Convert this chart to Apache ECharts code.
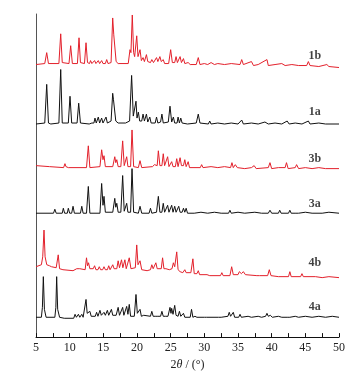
<!DOCTYPE html>
<html>
<head>
<meta charset="utf-8">
<script src="https://cdn.jsdelivr.net/npm/echarts@6/dist/echarts.min.js"></script>
<style>
  html, body { margin: 0; padding: 0; background: #fff; }
  #chart { width: 359px; height: 376px; }
</style>
</head>
<body>
<div id="chart"></div>
<script>
// 2theta range + tick labels
var xTicks = [5, 10, 15, 20, 25, 30, 35, 40, 45, 50];

// pattern names, top to bottom
var names = ['1b', '1a', '3b', '3a', '4b', '4a'];

// traced profiles, [2theta, intensity above own baseline]
var p1b = [[5,0],[6.3,1],[6.59,12],[6.85,1],[8.4,1],[8.67,31],[8.9,2],[9.9,1],[10.15,19],[10.4,1],[11.15,1],[11.39,27],[11.6,2],[12.2,1],[12.43,22],[12.65,2],[12.95,1],[13.1,4],[13.3,1],[13.55,1],[13.7,4],[13.9,1],[14.1,1],[14.25,4],[14.45,1],[14.6,1],[14.75,4],[14.95,1],[15.3,1],[15.5,5],[15.7,1],[16.15,2],[16.39,47],[16.55,30],[16.65,32],[16.9,3],[17.2,1],[18.7,1],[18.96,15],[19.1,12],[19.3,50],[19.5,12],[19.65,8],[19.96,29],[20.15,8],[20.3,6],[20.45,15],[20.65,4],[20.9,7],[21.1,3],[21.4,10],[21.6,3],[22.0,2],[22.2,5],[22.45,2],[22.7,2],[22.9,7],[23.1,3],[23.4,8],[23.6,3],[23.9,5],[24.1,1],[24.7,1],[25.0,15],[25.25,2],[25.6,2],[25.8,8],[26.0,2],[26.2,2],[26.4,8],[26.6,2],[26.9,6],[27.1,1],[27.6,2],[27.9,0],[28.8,0],[29.1,7],[29.35,0],[30,1],[30.5,0],[31,2],[31.5,0],[32,1],[33,0],[34,1],[35.3,0],[35.55,5],[35.8,0],[37,3],[37.3,-1],[38,0],[39.3,5],[39.5,-1],[40.5,0],[41.5,1],[42,-1],[43,0],[44,-1],[45.2,-1],[45.45,3],[45.7,-1],[47,-2],[48.2,0],[48.5,-2],[50,-3]];

var p1a = [[5,0],[6.3,1],[6.59,40],[6.85,1],[7.2,0],[8.4,1],[8.67,55],[8.9,1],[9.8,1],[10.05,28],[10.3,1],[11.1,1],[11.34,21],[11.6,1],[12.9,0],[13.3,1],[13.6,1],[13.76,6],[13.95,1],[14.1,1],[14.25,7],[14.45,1],[14.6,1],[14.75,6],[14.95,1],[15.2,1],[15.4,7],[15.6,1],[16.15,3],[16.39,31],[16.5,25],[16.6,27],[16.85,3],[17.2,1],[18.3,1],[18.9,3],[19.2,49],[19.45,8],[19.6,6],[19.85,23],[20.0,6],[20.2,12],[20.4,3],[20.7,3],[20.9,10],[21.1,3],[21.25,3],[21.4,10],[21.6,2],[21.75,2],[21.9,7],[22.1,1],[22.7,1],[22.9,7],[23.1,1],[23.5,2],[23.7,10],[23.9,1],[24.65,2],[24.9,18],[25.15,2],[25.25,2],[25.4,7],[25.6,1],[25.95,1],[26.1,7],[26.3,1],[26.4,1],[26.5,6],[26.7,1],[27.5,0],[28.8,1],[29.1,10],[29.35,1],[30.6,0],[30.8,3],[31,0],[32,1],[33,0],[34,1],[35,0],[35.55,4],[35.8,0],[37,1],[38,0],[39,2],[39.5,0],[40.5,1],[41.5,0],[42.3,3],[42.6,0],[43.5,1],[44.5,0],[45.45,3],[45.7,0],[47,1],[48,0],[50,0]];

var p3b = [[5,2],[7,1],[9.1,0],[9.3,4],[9.45,1],[9.6,2],[9.8,0],[12.5,0],[12.77,22],[13.0,0],[14.5,1],[14.75,18],[14.95,8],[15.1,12],[15.3,1],[16.4,1],[16.7,11],[16.85,5],[17.0,8],[17.2,1],[17.6,1],[17.87,27],[18.1,2],[18.3,1],[18.47,11],[18.65,1],[19.05,1],[19.26,38],[19.5,1],[20.2,0],[20.45,7],[20.7,0],[22.3,1],[22.6,3],[22.8,2],[23.0,2],[23.17,17],[23.4,2],[23.7,2],[23.9,14],[24.1,2],[24.35,1],[24.55,11],[24.75,1],[24.95,1],[25.15,6],[25.35,1],[25.7,1],[25.9,9],[26.1,1],[26.4,10],[26.6,2],[26.9,2],[27.1,8],[27.3,1],[27.6,6],[27.8,0],[29.4,0],[29.6,3],[29.8,0],[31,1],[32,0],[33,1],[33.9,0],[34.1,5],[34.3,0],[34.6,3],[34.9,0],[36,-1],[37,0],[37.4,2],[37.7,-1],[39.5,0],[39.75,5],[40,-1],[41,0],[42,0],[42.2,5],[42.45,-1],[43.5,0],[43.7,3],[44,-1],[45,0],[46,-1],[47,0],[48,-1],[50,-1]];

var p3a = [[5,0],[7.6,0],[7.8,4],[8.0,0],[8.9,0],[9.06,5],[9.25,0],[9.65,0],[9.8,5],[10.0,0],[10.3,0],[10.5,7],[10.7,0],[11.6,0],[11.8,7],[12.0,0],[12.5,0],[12.77,27],[13.0,0],[14.5,0],[14.75,30],[14.95,8],[15.1,17],[15.3,1],[16.4,1],[16.7,15],[16.85,6],[17.0,10],[17.2,1],[17.6,1],[17.87,38],[18.1,2],[18.3,1],[18.47,10],[18.65,1],[19.05,1],[19.26,45],[19.5,1],[20.2,0],[20.45,7],[20.7,0],[21.8,0],[22.0,5],[22.2,0],[22.9,1],[23.17,17],[23.4,1],[23.7,1],[23.9,10],[24.1,1],[24.35,1],[24.55,8],[24.75,1],[24.95,1],[25.15,8],[25.35,1],[25.45,1],[25.6,7],[25.8,1],[26.0,1],[26.2,7],[26.4,1],[26.7,1],[26.9,5],[27.1,1],[27.3,5],[27.5,0],[28.5,0],[29.5,1],[30.5,0],[31.5,1],[32.5,0],[33.6,0],[33.8,3],[34.0,0],[35,1],[36,0],[37.5,1],[38.5,0],[39.5,0],[39.75,3],[40,0],[41,0],[41.2,3],[41.4,0],[42.5,0],[42.7,3],[42.9,0],[43.6,0],[43.8,2],[44,0],[45,1],[46,0],[47.5,0],[48.5,1],[50,0]];

var p4b = [[5,4],[5.8,6],[6.0,14],[6.19,41],[6.35,14],[6.6,6],[7.0,5],[7.1,7],[7.3,4],[8.0,3],[8.3,16],[8.5,2],[9.0,1],[10.5,0],[11.05,2],[11.25,0],[11.5,2],[11.7,0],[12.3,1],[12.5,13],[12.65,5],[12.8,8],[13.0,2],[13.5,2],[13.7,5],[13.9,1],[14.2,1],[14.4,4],[14.6,1],[14.9,1],[15.1,4],[15.3,1],[15.6,1],[15.8,5],[16.0,1],[16.2,1],[16.4,6],[16.6,2],[17.0,2],[17.2,10],[17.4,3],[17.5,3],[17.7,11],[17.9,3],[18.0,3],[18.2,11],[18.4,2],[18.65,2],[18.85,13],[19.1,2],[19.75,3],[19.96,26],[20.15,6],[20.3,5],[20.45,10],[20.7,1],[21.5,0],[22.0,1],[22.2,6],[22.4,2],[22.6,2],[22.8,8],[23.0,2],[23.6,2],[23.8,13],[24.0,2],[24.3,2],[24.5,4],[24.8,1],[25.2,2],[25.4,8],[25.6,4],[25.9,19],[26.1,1],[26.4,-1],[26.6,0],[26.8,-2],[27.1,1],[27.3,-2],[28.0,-2],[28.3,12],[28.5,-3],[28.9,-3],[29.1,0],[29.3,-4],[30.4,-4],[30.6,-2],[30.8,-5],[32.4,-5],[32.6,-2],[32.8,-5],[33.8,-5],[34.06,4],[34.3,-4],[35.0,-4],[35.2,-1],[35.5,-3],[35.8,-1],[36.1,-4],[37.8,-5],[38.0,-3],[38.2,-5],[39.4,-5],[39.65,1],[39.9,-5],[41,-6],[42.5,-6],[42.7,-1],[42.9,-6],[44.3,-6],[44.5,-3],[44.7,-6],[46.5,-6],[47.5,-7],[48.5,-6],[50,-7]];

var p4a = [[5,0],[5.8,0],[5.95,10],[6.09,41],[6.25,8],[6.5,0],[7.8,0],[7.95,10],[8.07,41],[8.22,8],[8.5,0],[9.2,-1],[10.2,-1],[10.6,-1],[10.8,3],[11.0,0],[11.3,3],[11.5,0],[11.8,3],[12.0,0],[12.25,1],[12.43,18],[12.6,4],[12.8,3],[13.0,6],[13.2,1],[13.8,1],[14.0,5],[14.2,1],[14.35,1],[14.5,7],[14.7,2],[14.9,2],[15.1,5],[15.3,2],[15.4,2],[15.6,7],[15.8,2],[16.0,2],[16.2,8],[16.4,2],[16.9,2],[17.2,10],[17.4,2],[17.65,2],[17.87,10],[18.05,2],[18.3,2],[18.47,11],[18.65,3],[18.85,13],[19.05,1],[19.6,1],[19.85,23],[20.05,4],[20.25,3],[20.45,8],[20.65,1],[21.0,2],[21.2,0],[22.0,1],[22.2,6],[22.4,1],[22.7,1],[22.9,3],[23.1,1],[23.5,1],[23.7,6],[23.9,1],[24.2,1],[24.4,2],[24.6,1],[24.75,1],[24.9,10],[25.05,4],[25.15,9],[25.35,3],[25.6,12],[25.8,2],[26.1,1],[26.3,6],[26.5,1],[26.75,1],[26.9,4],[27.1,0],[27.9,0],[28.1,8],[28.3,0],[28.6,1],[28.9,0],[30,0],[30.1,2],[30.3,0],[32.1,0],[32.3,2],[32.5,0],[33.5,1],[33.7,5],[33.9,1],[34.1,2],[34.3,5],[34.5,0],[35.1,0],[35.3,3],[35.5,0],[36.5,1],[37,0],[38,1],[38.5,0],[39.1,1],[39.3,4],[39.5,1],[39.8,2],[40.1,0],[41,1],[41.5,0],[42.3,0],[42.5,2],[42.7,0],[43.5,1],[44,0],[45,1],[46,0],[47,1],[48,0],[49,1],[50,0]];

var profiles = [p1b, p1a, p3b, p3a, p4b, p4a];

// stacking (baseline height of each trace, y axis units = px)
var offsets = [275, 215, 171, 125, 67, 20];
var colors = ['#e3202b', '#111111', '#e3202b', '#111111', '#e3202b', '#111111'];
// label anchor (x in 2theta, y in axis units)
var labelY = [284, 227, 180, 134, 75, 30];

var chart = echarts.init(document.getElementById('chart'));

var series = profiles.map(function (p, i) {
    return {
        name: names[i],
        type: 'line',
        showSymbol: false,
        symbol: 'none',
        lineStyle: { width: 1, color: colors[i] },
        data: p.map(function (d) { return [d[0], d[1] + offsets[i]]; }),
        z: 2
    };
});

// sample names as a scatter with text only
series.push({
    type: 'scatter',
    symbolSize: 0,
    data: names.map(function (n, i) { return [46.4, labelY[i], n]; }),
    label: {
        show: true,
        position: 'inside',
        formatter: function (p) { return p.value[2]; },
        fontFamily: 'Liberation Serif',
        fontWeight: 'bold',
        fontSize: 12,
        color: '#111'
    },
    silent: true
});

chart.setOption({
    animation: false,
    backgroundColor: '#fff',
    grid: { left: 36, right: 20, top: 14, bottom: 36 },
    xAxis: {
        type: 'value',
        min: 5,
        max: 50,
        interval: 5,
        axisLine: { lineStyle: { color: '#111', width: 1 } },
        axisTick: { inside: true, length: 4, lineStyle: { color: '#111' } },
        minorTick: { show: true, splitNumber: 2, length: 4, lineStyle: { color: '#111' } },
        splitLine: { show: false },
        axisLabel: {
            margin: 5,
            fontFamily: 'Liberation Serif',
            fontSize: 12,
            color: '#222',
            formatter: function (v) { return xTicks.indexOf(v) >= 0 ? String(v) : ''; }
        },
        name: '2{i|θ} / (°)',
        nameLocation: 'middle',
        nameGap: 19,
        nameTextStyle: {
            fontFamily: 'Liberation Serif',
            fontSize: 12,
            color: '#222',
            rich: { i: { fontStyle: 'italic', fontFamily: 'Liberation Serif', fontSize: 12, color: '#222' } }
        }
    },
    yAxis: {
        type: 'value',
        min: 0,
        max: 326,
        axisLine: { show: true, lineStyle: { color: '#555', width: 1 } },
        axisTick: { show: false },
        axisLabel: { show: false },
        splitLine: { show: false }
    },
    series: series
});
</script>
</body>
</html>
